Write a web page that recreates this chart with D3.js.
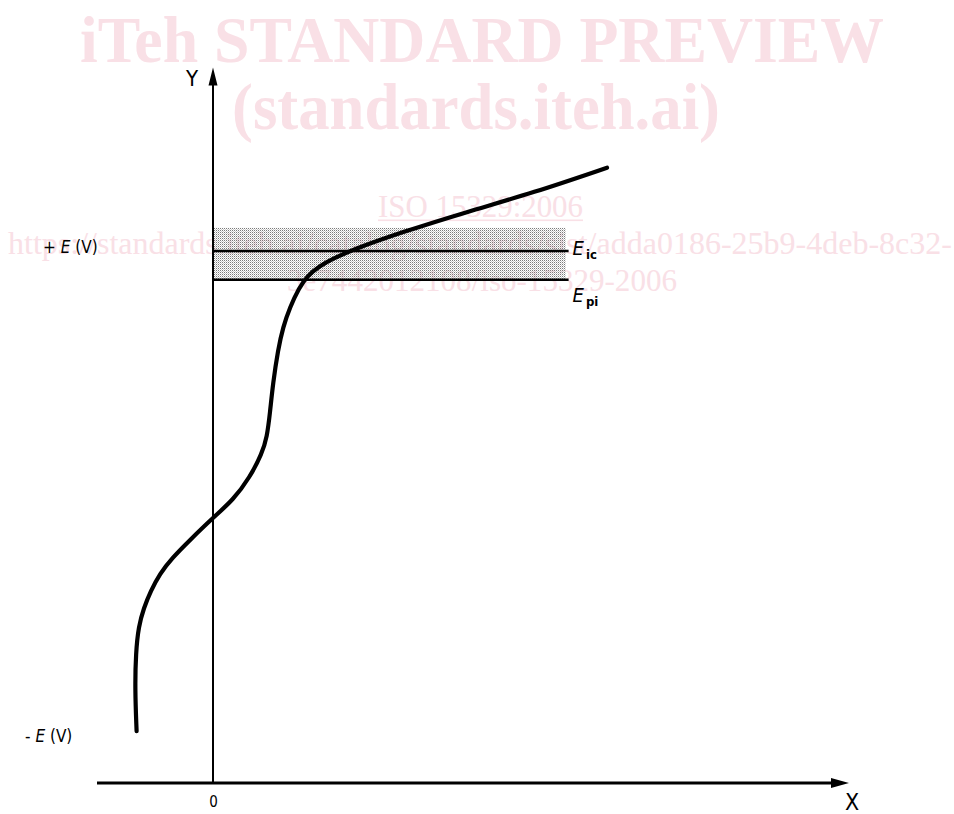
<!DOCTYPE html>
<html>
<head>
<meta charset="utf-8">
<script src="https://cdn.jsdelivr.net/npm/d3@7/dist/d3.min.js"></script>
<style>
  html, body { margin: 0; padding: 0; background: #fff; }
  svg { display: block; }
</style>
</head>
<body>
<script>
// ---- data (arbitrary units) ----
const curveX = [-19.1, -19.5, -19.3, -18.6, -17.3, -15.6, -13.3, -10.3, -5.8, 0, 5, 9.25, 12.25, 13.5, 14.25, 15.0, 16.25, 17.5, 19.25, 21.5, 23.5, 26.5, 30, 35, 46.75, 63.5, 80, 98.5];
const curveY = [7.4, 13.3, 18.6, 22.4, 25.0, 27.4, 29.9, 32.1, 34.7, 37.9, 40.4, 43.7, 47.1, 49.4, 52.9, 57.1, 61.9, 65.1, 68.0, 70.7, 72.4, 73.8, 74.9, 76.2, 78.6, 81.6, 84.3, 87.9];
const levelNames = ["ic", "pi"];
const levelValues = [76.0, 71.9];
const bandTop = 79.3;
const levelXEnd = 88.9;
const bandXEnd = 88.2;
const yTickValues = [76.4, 6.6];
const yTickSigns = ["+", "-"];
const xTickValues = [0];
const xAxisMin = -29, xAxisMax = 159;
const yAxisMax = 102.2;
const watermarkTitle = ["iTeh STANDARD PREVIEW", "(standards.iteh.ai)"];
const watermarkIso = "ISO 15329:2006";
const watermarkUrl = ["https://standards.iteh.ai/catalog/standards/sist/adda0186-25b9-4deb-8c32-", "3e7442012108/iso-15329-2006"];

const W = 954, H = 814;
const x = d3.scaleLinear().domain([0, 100]).range([213, 613]);
const y = d3.scaleLinear().domain([0, 100]).range([783, 83]);

const svg = d3.select("body").append("svg").attr("width", W).attr("height", H)
  .attr("viewBox", `0 0 ${W} ${H}`);
svg.append("rect").attr("width", W).attr("height", H).attr("fill", "#fff");

const defs = svg.append("defs");
const pat = defs.append("pattern").attr("id", "stipple").attr("patternUnits", "userSpaceOnUse")
  .attr("width", 2).attr("height", 2);
pat.append("rect").attr("x", 0).attr("y", 0).attr("width", 1).attr("height", 1).attr("fill", "#7a7a7a");
pat.append("rect").attr("x", 1).attr("y", 1).attr("width", 1).attr("height", 1).attr("fill", "#c8c8c8");

// ---- watermark (behind) ----
const wm = svg.append("g").attr("fill", "#f9e0e6").attr("font-family", "'Liberation Serif','DejaVu Serif',serif");
wm.append("text").attr("x", 80).attr("y", 62).attr("font-size", 66).attr("font-weight", "bold")
  .attr("textLength", 804).attr("lengthAdjust", "spacingAndGlyphs").text(watermarkTitle[0]);
wm.append("text").attr("x", 232).attr("y", 129).attr("font-size", 66).attr("font-weight", "bold")
  .attr("textLength", 488).attr("lengthAdjust", "spacingAndGlyphs").text(watermarkTitle[1]);
wm.append("text").attr("x", 378).attr("y", 217).attr("font-size", 31)
  .attr("textLength", 205).attr("lengthAdjust", "spacingAndGlyphs").text(watermarkIso);
wm.append("rect").attr("x", 378).attr("y", 219.5).attr("width", 205).attr("height", 1.6);
wm.append("text").attr("x", 8).attr("y", 254).attr("font-size", 31)
  .attr("textLength", 944).attr("lengthAdjust", "spacingAndGlyphs").text(watermarkUrl[0]);
wm.append("text").attr("x", 287).attr("y", 291).attr("font-size", 31)
  .attr("textLength", 390).attr("lengthAdjust", "spacingAndGlyphs").text(watermarkUrl[1]);

// ---- shaded band ----
svg.append("rect")
  .attr("x", x(0) + 1).attr("y", y(bandTop))
  .attr("width", x(bandXEnd) - x(0) - 1).attr("height", y(levelValues[1]) - y(bandTop))
  .attr("fill", "url(#stipple)");

// ---- level lines ----
svg.selectAll("line.level").data(levelValues).join("line").attr("class", "level")
  .attr("x1", x(0)).attr("x2", x(levelXEnd))
  .attr("y1", d => y(d)).attr("y2", d => y(d))
  .attr("stroke", "#000").attr("stroke-width", 2.6);

// ---- axes ----
const ax = svg.append("g");
ax.append("line").attr("x1", x(xAxisMin)).attr("x2", x(xAxisMax) - 12)
  .attr("y1", y(0)).attr("y2", y(0)).attr("stroke", "#000").attr("stroke-width", 3);
ax.append("path")
  .attr("d", `M${x(xAxisMax)},${y(0)} L${x(xAxisMax) - 18},${y(0) - 5} L${x(xAxisMax) - 18},${y(0) + 5} Z`)
  .attr("fill", "#000");
ax.append("line").attr("x1", x(0)).attr("x2", x(0))
  .attr("y1", y(0) + 1).attr("y2", y(yAxisMax) + 12).attr("stroke", "#000").attr("stroke-width", 2);
ax.append("path")
  .attr("d", `M${x(0)},${y(yAxisMax)} L${x(0) - 4.5},${y(yAxisMax) + 18} L${x(0) + 4.5},${y(yAxisMax) + 18} Z`)
  .attr("fill", "#000");

const font = "'DejaVu Sans Condensed','Liberation Sans Narrow','DejaVu Sans',sans-serif";

// x axis tick label "0" via d3 axis
const xAxisG = svg.append("g").attr("transform", `translate(0,${y(0)})`)
  .call(d3.axisBottom(x).tickValues(xTickValues).tickSize(0).tickPadding(13).tickFormat(d3.format("d")));
xAxisG.select(".domain").remove();
xAxisG.selectAll("text").attr("font-family", font).attr("font-size", 15).attr("fill", "#000");

// axis names
svg.append("text").attr("x", x(0) - 27).attr("y", y(yAxisMax) + 18).attr("font-family", font)
  .attr("font-size", 22).text("Y");
svg.append("text").attr("x", x(xAxisMax) + 3).attr("y", 810).attr("text-anchor", "middle")
  .attr("font-family", font).attr("font-size", 23).text("X");

// y labels: +E (V) / -E (V)
const yl = svg.selectAll("text.ylab").data(yTickValues).join("text").attr("class", "ylab")
  .attr("x", (d, i) => i === 0 ? 43 : 25).attr("y", d => y(d) + 5)
  .attr("font-family", font).attr("font-size", 17).attr("fill", "#000");
yl.append("tspan").text((d, i) => yTickSigns[i] + " ");
yl.append("tspan").attr("font-style", "italic").text("E");
yl.append("tspan").text(" (V)");

// level labels
const ll = svg.selectAll("text.llab").data(levelValues).join("text").attr("class", "llab")
  .attr("x", x(levelXEnd) + 4).attr("y", (d, i) => y(d) + (i === 0 ? 4 : 22))
  .attr("font-family", font).attr("font-size", 20).attr("fill", "#000");
ll.append("tspan").attr("font-style", "italic").text("E");
ll.append("tspan").attr("font-size", 13).attr("font-weight", "bold").attr("dx", 2).attr("dy", 4)
  .text((d, i) => levelNames[i]);

// ---- curve ----
const pts = curveX.map((v, i) => [v, curveY[i]]);
svg.append("path").datum(pts)
  .attr("d", d3.line().x(d => x(d[0])).y(d => y(d[1])).curve(d3.curveBasis))
  .attr("fill", "none").attr("stroke", "#000").attr("stroke-width", 4.2)
  .attr("stroke-linecap", "round").attr("stroke-linejoin", "round");
</script>
</body>
</html>
